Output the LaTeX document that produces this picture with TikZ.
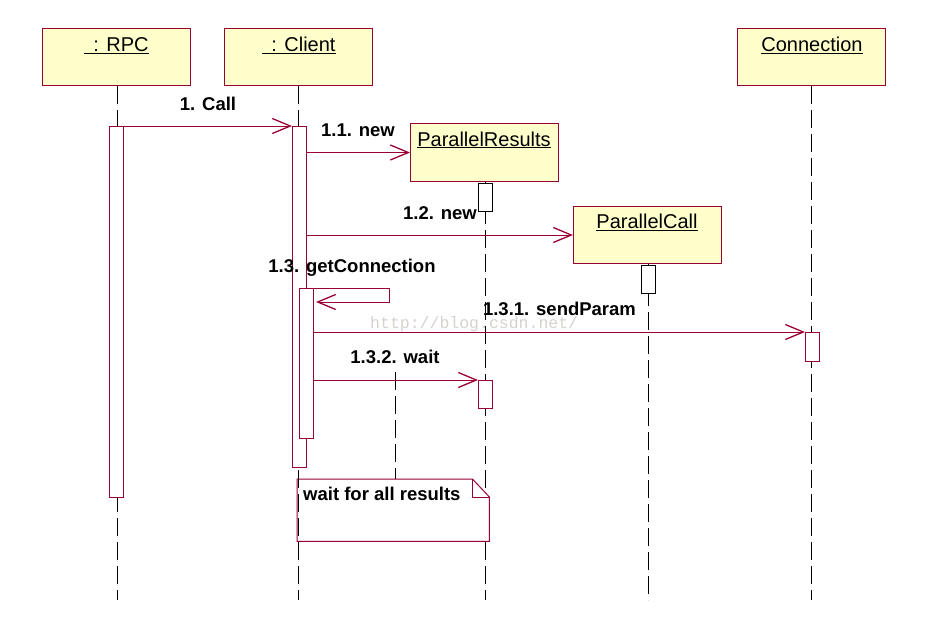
\documentclass[tikz,border=0pt]{standalone}
\usepackage{fontspec}
\setmainfont{Liberation Sans}
\newfontfamily\wmfont{Liberation Mono}
\usetikzlibrary{arrows.meta}
\definecolor{umlred}{RGB}{153,0,51}
\definecolor{umlfill}{RGB}{255,255,204}
\definecolor{wmgray}{RGB}{214,210,206}
\begin{document}
\begin{tikzpicture}[x=1pt,y=-1pt,
  obj/.style={draw=umlred, fill=umlfill, line width=1pt, minimum width=148pt, minimum height=57pt, inner sep=0pt, anchor=north west},
  title/.style={font=\fontsize{20}{24}\selectfont, anchor=base, inner sep=0pt},
  lbl/.style={font=\bfseries\fontsize{18.5}{22}\selectfont, anchor=base, inner sep=0pt},
  life/.style={draw=black, line width=1pt, dash pattern=on 18pt off 6pt},
  act/.style={draw=umlred, fill=white, line width=1pt, minimum width=14pt, inner sep=0pt, anchor=north west},
  actk/.style={act, draw=black},
  msg/.style={draw=umlred, line width=1pt, -{Straight Barb[length=18pt,width=15pt,line width=1.3pt]}},
  notebox/.style={draw=umlred, fill=white, line width=1pt},
]
\fill[white] (0,0) rectangle (930,624);
\useasboundingbox (0,0) rectangle (930,624);

% objects
\node[obj] (rpc) at (42,28) {};
\node[obj] (cli) at (224,28) {};
\node[obj, minimum height=58pt] (pr) at (410,123) {};
\node[obj] (pc) at (573,206) {};
\node[obj] (con) at (737,28) {};

\node[title] (rpcT) at (116.5,51.7) {\underline{\hspace{9pt}: RPC}};
\node[title] (cliT) at (299,51.7) {\underline{\hspace{9pt}: Client}};
\node[title] (prT) at (484,146) {\underline{ParallelResults}};
\node[title] (pcT) at (647,228.5) {\underline{ParallelCall}};
\node[title] (conT) at (812,51.7) {\underline{Connection}};

% lifelines
\draw[life] ([xshift=1pt]rpc.south) -- ([xshift=1pt]rpc.south |- 0,600);
\draw[life] ([xshift=1pt]pr.south) -- ([xshift=1pt]pr.south |- 0,600);
\draw[life] ([xshift=1pt]pc.south) -- ([xshift=1pt]pc.south |- 0,600);
\draw[life] (con.south) -- (con.south |- 0,600);

% note
\node[draw=none, minimum width=192pt, minimum height=62pt, anchor=north west, inner sep=0pt] (note) at (297,479) {};
\draw[notebox] (note.north west) -- ([xshift=-17pt]note.north east) -- ([yshift=-18pt]note.north east) -- (note.south east) -- (note.south west) -- cycle;
\draw[draw=umlred, line width=0.8pt] ([xshift=-17pt]note.north east) |- ([yshift=-18pt]note.north east);
\node[lbl, anchor=base west] (noteT) at (303,500.5) {wait for all results};
\coordinate (nl) at (395,372);
\draw[life] (nl) -- (nl |- note.north);

\draw[life] (cli.south) -- (cli.south |- 0,600);

% activations
\node[act, minimum height=371pt] (rpcA) at (109,126) {};
\node[act, minimum height=341pt] (cliA) at (292,126) {};
\node[act, minimum height=150pt] (nestA) at (299,288) {};
\node[actk, minimum height=28pt] (prA) at (478,183) {};
\node[actk, minimum height=28pt] (pcA) at (641,265) {};
\node[act, minimum height=29pt] (conA) at (805,332) {};
\node[act, minimum height=28pt] (waitA) at (478,380) {};

% messages
\draw[msg] (rpcA.north east) -- (cliA.north west);
\draw[msg] (cliA.east |- pr.west) -- (pr.west);
\draw[msg] (cliA.east |- pc.west) -- (pc.west);
\coordinate (selfR) at (389,302);
\draw[msg] (cliA.east |- nestA.north) -| (selfR) -- ([xshift=2pt]nestA.east |- selfR);
\draw[msg] (nestA.east |- conA.north) -- (conA.north west);
\draw[msg] (nestA.east |- waitA.north) -- (waitA.north west);

% labels
\node[lbl] (m1) at (208,110) {1. Call};
\node[lbl] (m11) at (358,136.7) {1.1. new};
\node[lbl] (m12) at (440,219) {1.2. new};
\node[lbl] (m13) at (352,272.3) {1.3. getConnection};
\node[lbl] (m131) at (559.5,315) {1.3.1. sendParam};
\node[lbl] (m132) at (395,363.3) {1.3.2. wait};

% watermark
\node[font=\wmfont\fontsize{16.5}{18}\selectfont, text=wmgray, anchor=base west, inner sep=0pt] (wm) at (370,328) {http://blog.csdn.net/};
\end{tikzpicture}
\end{document}
